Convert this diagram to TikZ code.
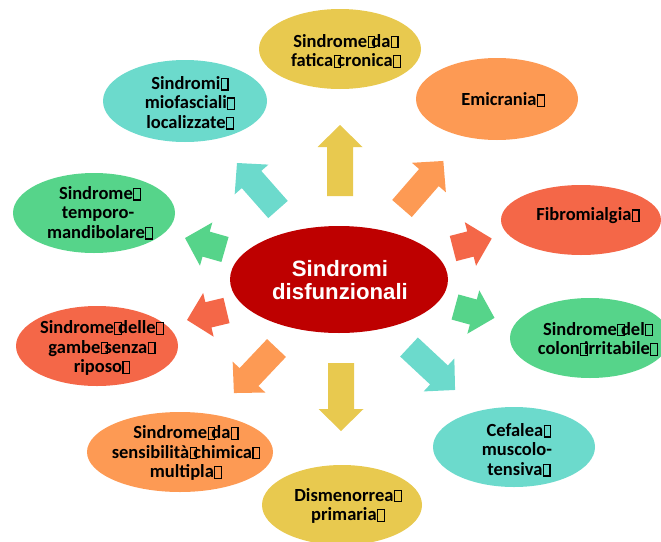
\documentclass[tikz,border=0pt]{standalone}
\usepackage{fontspec}
\setmainfont{Carlito}
\newfontfamily\arialfont{Liberation Sans}
\definecolor{cYel}{HTML}{E8C94F}
\definecolor{cTeal}{HTML}{6CDACC}
\definecolor{cOra}{HTML}{FD9A54}
\definecolor{cRed}{HTML}{F46748}
\definecolor{cGrn}{HTML}{56D48A}
\definecolor{cDark}{HTML}{BE0000}
\newcommand\gb{\rlap{\kern0.02em\fboxsep=0pt\fboxrule=0.06em\fbox{\rule{0pt}{0.56em}\rule{0.3em}{0pt}}}\kern0.226em}
\newcommand\blockarrow[5]{%
  \fill[#1, shift={(#2,#3)}, rotate=#4] (0,-13) -- ({#5-22},-13) -- ({#5-22},-22.5) -- (#5,0) -- ({#5-22},22.5) -- ({#5-22},13) -- (0,13) -- cycle;}
\begin{document}
\begin{tikzpicture}[x=1pt,y=-1pt,
  lbl/.style={inner sep=0pt, align=center, text=black, font=\bfseries\fontsize{18.5}{19.5}\selectfont},
  center lbl/.style={inner sep=0pt, align=center, text=white, font=\arialfont\bfseries\fontsize{22.2}{23}\selectfont}]
\useasboundingbox (0,0) rectangle (661,541);
% ellipses
\fill[cYel]  (340,49)  ellipse [x radius=81, y radius=40];
\fill[cTeal] (185,101) ellipse [x radius=82, y radius=41];
\fill[cOra]  (497,99)  ellipse [x radius=81, y radius=41];
\fill[cGrn]  (94,213)  ellipse [x radius=81, y radius=40];
\fill[cRed]  (581,220) ellipse [x radius=80, y radius=35];
\fill[cDark] (339,279.5) ellipse [x radius=109, y radius=53.5];
\fill[cRed]  (97,346)  ellipse [x radius=81, y radius=40];
\fill[cGrn]  (590,338) ellipse [x radius=80, y radius=40];
\fill[cOra]  (180,452) ellipse [x radius=93, y radius=40];
\fill[cTeal] (514,447) ellipse [x radius=81, y radius=40];
\fill[cYel]  (342,505) ellipse [x radius=80, y radius=40];
% labels
\node[lbl] (fatica) at (344,51) {Sindrome\gb da\gb\\fatica\gb cronica\gb};
\node[lbl] (miof) at (188,103) {Sindromi\gb\\miofasciali\gb\\localizzate\gb};
\node[lbl] (emic) at (501,100) {Emicrania\gb};
\node[lbl] (temp) at (98,213) {Sindrome\gb\\temporo-\\mandibolare\gb};
\node[lbl] (fibro) at (586,216) {Fibromialgia\gb};
\node[center lbl] (centro) at (340,280) {Sindromi\\disfunzionali};
\node[lbl] (gambe) at (100,348) {Sindrome\gb delle\gb\\gambe\gb senza\gb\\riposo\gb};
\node[lbl] (colon) at (596,339) {Sindrome\gb del\gb\\colon\gb irritabile\gb};
\node[lbl] (chim) at (184,453) {Sindrome\gb da\gb\\sensibilità\gb chimica\gb\\multipla\gb};
\node[lbl] (cefa) at (517,450) {Cefalea\gb\\muscolo-\\tensiva\gb};
\node[lbl] (dism) at (346,506) {Dismenorrea\gb\\primaria\gb};
% block arrows
\blockarrow{cYel}{340}{196}{90}{71}
\blockarrow{cYel}{341}{363}{-90}{68}
\blockarrow{cOra}{402}{208.5}{49}{63}
\blockarrow{cTeal}{278}{209.5}{131.4}{62}
\blockarrow{cGrn}{225}{249.5}{164}{41.6}
\blockarrow{cRed}{226.5}{310.5}{193.5}{40.6}
\blockarrow{cRed}{453}{248.5}{14.4}{40}
\blockarrow{cGrn}{455}{307}{-15.4}{41}
\blockarrow{cTeal}{409}{347}{-43}{63}
\blockarrow{cOra}{276.5}{348}{226.6}{62}
\end{tikzpicture}
\end{document}
